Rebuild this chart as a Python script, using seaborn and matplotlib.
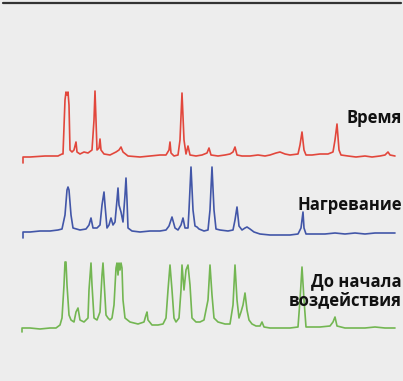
import numpy as np
import pandas as pd
import matplotlib
matplotlib.use("Agg")
import matplotlib.pyplot as plt
from matplotlib.lines import Line2D
import seaborn as sns

# spectra: channel position and intensity above each baseline
time_x = [23, 23, 30, 45, 58, 62, 63, 65, 66, 67, 68, 69, 70, 72, 74, 76, 77, 80, 84, 88,
          92, 94, 95, 96, 97, 99, 100, 101, 104, 110, 116, 119, 121, 123, 128, 140, 150, 160,
          166, 169, 170, 171, 174, 178, 180, 182, 184, 186, 188, 190, 196, 202, 207, 209, 211,
          218, 225, 230, 233, 235, 237, 242, 250, 258, 265, 270, 276, 280, 285, 290, 298, 300,
          302, 304, 306, 312, 320, 328, 333, 335, 337, 339, 341, 348, 356, 365, 372, 380, 385,
          388, 390, 395]
time_i = [-6, 0, 0, 1, 1, 3, 3, 57, 65, 62, 65, 52, 7, 5, 7, 15, 5, 3, 5, 4,
          7, 37, 66, 37, 7, 9, 18, 7, 3, 2, 5, 7, 10, 5, 1, 0, 1, 2,
          2, 7, 15, 4, 1, 2, 17, 64, 17, 3, 11, 2, 1, 2, 4, 9, 2,
          1, 2, 3, 5, 10, 2, 1, 1, 2, 1, 2, 4, 5, 3, 2, 3, 12,
          25, 7, 2, 2, 3, 3, 5, 17, 33, 7, 2, 1, 0, 1, 0, 1, 2,
          5, 2, 1]

heat_x = [23, 23, 30, 40, 50, 58, 62, 65, 67, 68, 69, 71, 73, 80, 86, 89, 91, 93, 97, 100,
          102, 104, 105, 107, 109, 111, 113, 115, 117, 118, 119, 121, 123, 125, 126, 127, 128,
          132, 140, 150, 160, 166, 169, 172, 175, 178, 181, 183, 185, 188, 189, 191, 193, 195,
          197, 199, 204, 208, 210, 212, 214, 216, 220, 228, 233, 235, 237, 239, 242, 245, 247,
          250, 254, 260, 270, 280, 290, 298, 301, 303, 304, 306, 315, 325, 335, 345, 355, 365,
          375, 385, 395]
heat_i = [-5, 1, 1, 2, 2, 3, 4, 18, 43, 46, 43, 18, 5, 3, 4, 8, 15, 5, 5, 8,
          28, 41, 28, 5, 8, 15, 8, 11, 33, 45, 28, 21, 11, 38, 55, 33, 5,
          2, 1, 2, 2, 3, 7, 16, 5, 3, 8, 15, 5, 5, 23, 66, 23, 7,
          6, 4, 2, 3, 23, 66, 23, 4, 3, 2, 3, 13, 26, 7, 3, 5, 6,
          4, 1, -1, -2, -2, -2, -1, 5, 21, 5, -1, -1, -1, 0, -1, 0, -1,
          0, 0, 0]

before_x = [22, 22, 30, 40, 50, 56, 60, 62, 64, 65, 66, 67, 69, 71, 74, 76, 78, 80, 84, 88,
            89, 91, 92, 94, 97, 100, 102, 103, 104, 106, 108, 110, 112, 114, 116, 117, 118,
            119, 120, 121, 122, 123, 125, 130, 138, 144, 146, 147, 148, 152, 158, 163, 166,
            168, 170, 172, 174, 176, 179, 181, 182, 184, 186, 188, 190, 192, 196, 200, 204,
            208, 210, 212, 214, 218, 225, 230, 233, 235, 237, 239, 241, 243, 245, 247, 249,
            252, 256, 260, 262, 264, 270, 280, 290, 298, 300, 302, 304, 306, 312, 320, 330,
            333, 335, 337, 345, 355, 365, 375, 385, 395]
before_i = [-4, 0, 0, -1, 0, 0, 3, 10, 43, 66, 66, 43, 13, 8, 6, 16, 20, 8, 6, 10,
            38, 65, 43, 10, 8, 16, 53, 65, 48, 13, 10, 8, 10, 23, 60, 65, 53,
            65, 58, 65, 60, 28, 10, 6, 4, 6, 13, 16, 8, 3, 3, 4, 10,
            38, 63, 38, 10, 6, 10, 38, 63, 38, 58, 63, 43, 10, 6, 6, 8,
            28, 63, 33, 10, 6, 4, 4, 23, 63, 28, 10, 16, 23, 35, 18, 8,
            4, 2, 2, 6, 1, 0, 0, 0, 1, 28, 61, 28, 1, 1, 1, 2,
            6, 11, 2, 0, 0, 0, 1, 0, 0]

labels = ["Время", "Нагревание", "До начала\nвоздействия"]

sns.set_theme(style="white")
plt.rcParams["font.family"] = ["Open Sans", "DejaVu Sans"]

W, H = 403, 381
fig = plt.figure(figsize=(W / 100, H / 100), dpi=100)
fig.patch.set_facecolor("#ededed")
ax = fig.add_axes([0, 0, 1, 1])
ax.set_facecolor("#ededed")
ax.set_xlim(0, W)
ax.set_ylim(0, H)
ax.axis("off")

traces = [
    (time_x, time_i, 224, "#e2473c", labels[0], 258),
    (heat_x, heat_i, 148, "#4256a8", labels[1], 171),
    (before_x, before_i, 53, "#73b652", labels[2], 76),
]

for xs, ints, base, col, lab, ty in traces:
    df = pd.DataFrame({"pos": xs, "level": np.array(ints) + base})
    sns.lineplot(data=df, x="pos", y="level", sort=False, estimator=None,
                 color=col, lw=1.2, ax=ax)
    ax.text(W - 1, ty, lab, ha="right", va="baseline", ma="right",
            fontsize=12, fontweight="bold", color="#111111", linespacing=1.05)

# dark rule along the top
fig.add_artist(Line2D([3 / W, 401 / W], [1 - 3 / H, 1 - 3 / H],
                      color="#333333", lw=1.6))

fig.savefig("out.png", dpi=100, facecolor=fig.get_facecolor())
